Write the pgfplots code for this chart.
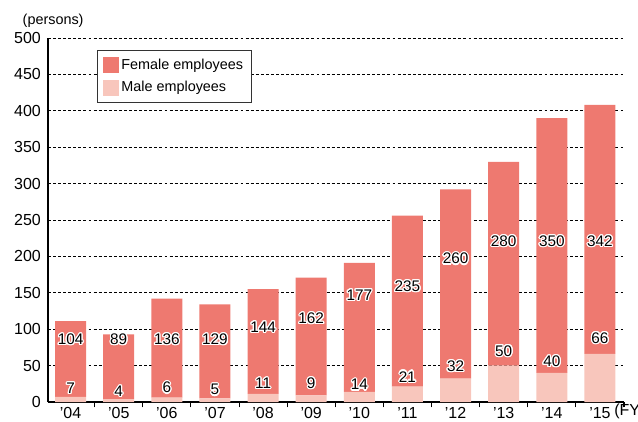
\documentclass[border=0pt]{standalone}
\usepackage{fontspec}
\setmainfont{Liberation Sans}
\usepackage{pgfplots}
\pgfplotsset{compat=1.18}
\usepackage{contour}
\contourlength{0.9pt}
\definecolor{fem}{RGB}{238,121,112}
\definecolor{mal}{RGB}{248,198,188}
\newcommand{\lab}[3]{\coordinate (L#1x#2) at (axis cs:#1,#2);}
\newcommand{\labdraw}[3]{\node[font=\fontsize{11.5}{13}\selectfont, inner sep=0pt] at (L#1x#2) {\contour{white}{#3}};}
\newcommand{\alllabels}[1]{%
#1{0}{85}{104}#1{1}{85}{89}#1{2}{85}{136}#1{3}{85}{129}%
#1{4}{102}{144}#1{5}{114}{162}#1{6}{146}{177}#1{7}{158}{235}%
#1{8}{196}{260}#1{9}{220}{280}#1{10}{220}{350}#1{11}{220}{342}%
#1{0}{18}{7}#1{1}{14}{4}#1{2}{19}{6}#1{3}{16}{5}%
#1{4}{25}{11}#1{5}{25}{9}#1{6}{23}{14}#1{7}{34}{21}%
#1{8}{48}{32}#1{9}{69}{50}#1{10}{55}{40}#1{11}{87}{66}}
\begin{document}
\begin{tikzpicture}
\begin{axis}[
  at={(0,0)}, anchor=south west,
  scale only axis, width=432pt, height=273pt,
  ybar stacked, bar width=23.25pt,
  xmin=-0.47, xmax=11.5, ymin=0, ymax=500,
  axis x line*=bottom, axis y line*=left,
  axis line style={-, black, line width=0.8pt},
  ytick={0,50,...,500},
  ymajorgrids,
  grid style={black, dash pattern=on 2.2pt off 1.6pt, line width=0.5pt},
  ytick style={draw=none},
  xtick={0,...,11},
  xticklabels={’04,’05,’06,’07,’08,’09,’10,’11,’12,’13,’14,’15},
  major x tick style={draw=none},
  extra x ticks={0.5,1.5,...,11.5},
  extra x tick labels={},
  extra x tick style={major tick length=4pt, tick align=outside, major x tick style={draw=black, line width=0.8pt}, xmajorgrids=false},
  tick label style={font=\fontsize{12}{14}\selectfont},
  /pgf/number format/assume math mode=true,
  yticklabel style={xshift=-1.8pt},
  xticklabel style={yshift=-0.5pt},
  legend style={at={(rel axis cs:0.085,0.967)}, anchor=north west, draw=black!80, line width=0.6pt,
    font=\fontsize{10.8}{12}\selectfont, inner xsep=4pt, inner ysep=4.5pt, row sep=3.5pt, cells={anchor=west}},
  legend image code/.code={\fill[#1] (0pt,-6pt) rectangle (12pt,6pt);},
  reverse legend,
  clip=false,
]
\addplot[fill=mal, draw=none] coordinates {(0,7) (1,4) (2,6) (3,5) (4,11) (5,9) (6,14) (7,21) (8,32) (9,50) (10,40) (11,66)};
\addlegendentry{Male employees}
\addplot[fill=fem, draw=none] coordinates {(0,104) (1,89) (2,136) (3,129) (4,144) (5,162) (6,177) (7,235) (8,260) (9,280) (10,350) (11,342)};
\addlegendentry{Female employees}
\alllabels{\lab}
\node[anchor=west, font=\fontsize{10.8}{12}\selectfont] at ([xshift=-22.5pt,yshift=12.75pt]rel axis cs:0,1) {(persons)};
\node[anchor=west, font=\fontsize{12}{14}\selectfont, inner sep=0pt] at ([xshift=424.5pt,yshift=-7pt]rel axis cs:0,0) {(FY)};
\end{axis}
\alllabels{\labdraw}
\pgfresetboundingbox
\useasboundingbox (-36pt,-14.25pt) rectangle (442.5pt,301.5pt);
\end{tikzpicture}
\end{document}
